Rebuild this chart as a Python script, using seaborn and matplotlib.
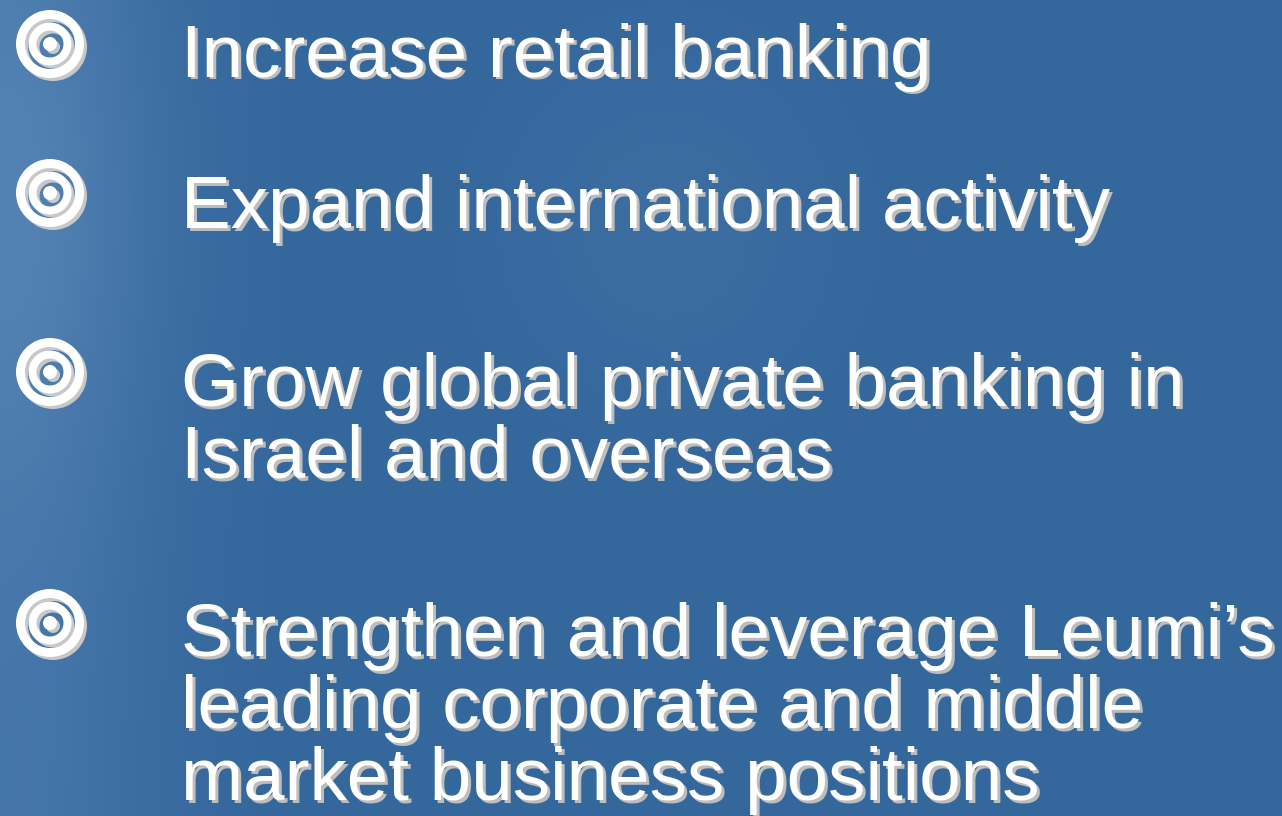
import numpy as np
import matplotlib
matplotlib.use("Agg")
import matplotlib.pyplot as plt
from matplotlib.patches import Circle, Wedge
import seaborn as sns

# ---- content ----
bullet_lines = [
    ["Increase retail banking"],
    ["Expand international activity"],
    ["Grow global private banking in", "Israel and overseas"],
    ["Strengthen and leverage Leumi\u2019s", "leading corporate and middle", "market business positions"],
]
first_baselines = [77, 228, 406, 656]
bullet_centers_y = [44, 193, 372, 623]

sns.set_theme(style="white")
plt.rcParams['font.family'] = ['Liberation Sans', 'DejaVu Sans']

W, H = 1282, 816
fig = plt.figure(figsize=(W / 100, H / 100), dpi=100)
ax = fig.add_axes([0, 0, 1, 1])
ax.set_xlim(0, W)
ax.set_ylim(H, 0)
ax.axis("off")

# background: blue with lighter textured left side
xx, yy = np.meshgrid(np.linspace(0, 1, 320), np.linspace(0, 1, 204))
base = np.array([52, 103, 156]) / 255.0
light = np.array([84, 130, 180]) / 255.0
w = np.exp(-(xx / 0.12) ** 2) * (0.55 + 0.45 * np.exp(-((yy - 0.25) / 0.35) ** 2))
w += 0.25 * np.exp(-((xx - 0.52) / 0.12) ** 2 - ((yy - 0.28) / 0.2) ** 2)
w = np.clip(w, 0, 1)
img = base[None, None, :] * (1 - w[..., None]) + light[None, None, :] * w[..., None]
ax.imshow(img, extent=[0, W, H, 0], aspect="auto", interpolation="bilinear", zorder=0)

def ring(cx, cy, r_out, width, color, z):
    ax.add_patch(Wedge((cx, cy), r_out, 0, 360, width=width, facecolor=color,
                       edgecolor="none", zorder=z))

def bullet(cx, cy):
    sh = "#c8c8c8"
    d = 3
    for col, off, z in [(sh, d, 2), ("white", 0, 3)]:
        ring(cx + off, cy + off, 34, 9, col, z)
        ring(cx + off, cy + off, 21.5, 8, col, z)
        ax.add_patch(Circle((cx + off, cy + off), 7, facecolor=col,
                            edgecolor="none", zorder=z))

text_x = 181
line_step = 72
fs = 53.7
for lines, b0, cy in zip(bullet_lines, first_baselines, bullet_centers_y):
    bullet(50, cy)
    for i, line in enumerate(lines):
        y = b0 + i * line_step
        ax.text(text_x + 2.5, y + 2.5, line, color="#bdbdbd", fontsize=fs,
                va="baseline", ha="left", zorder=4)
        ax.text(text_x, y, line, color="white", fontsize=fs,
                va="baseline", ha="left", zorder=5)

fig.savefig("out.png", dpi=100)
